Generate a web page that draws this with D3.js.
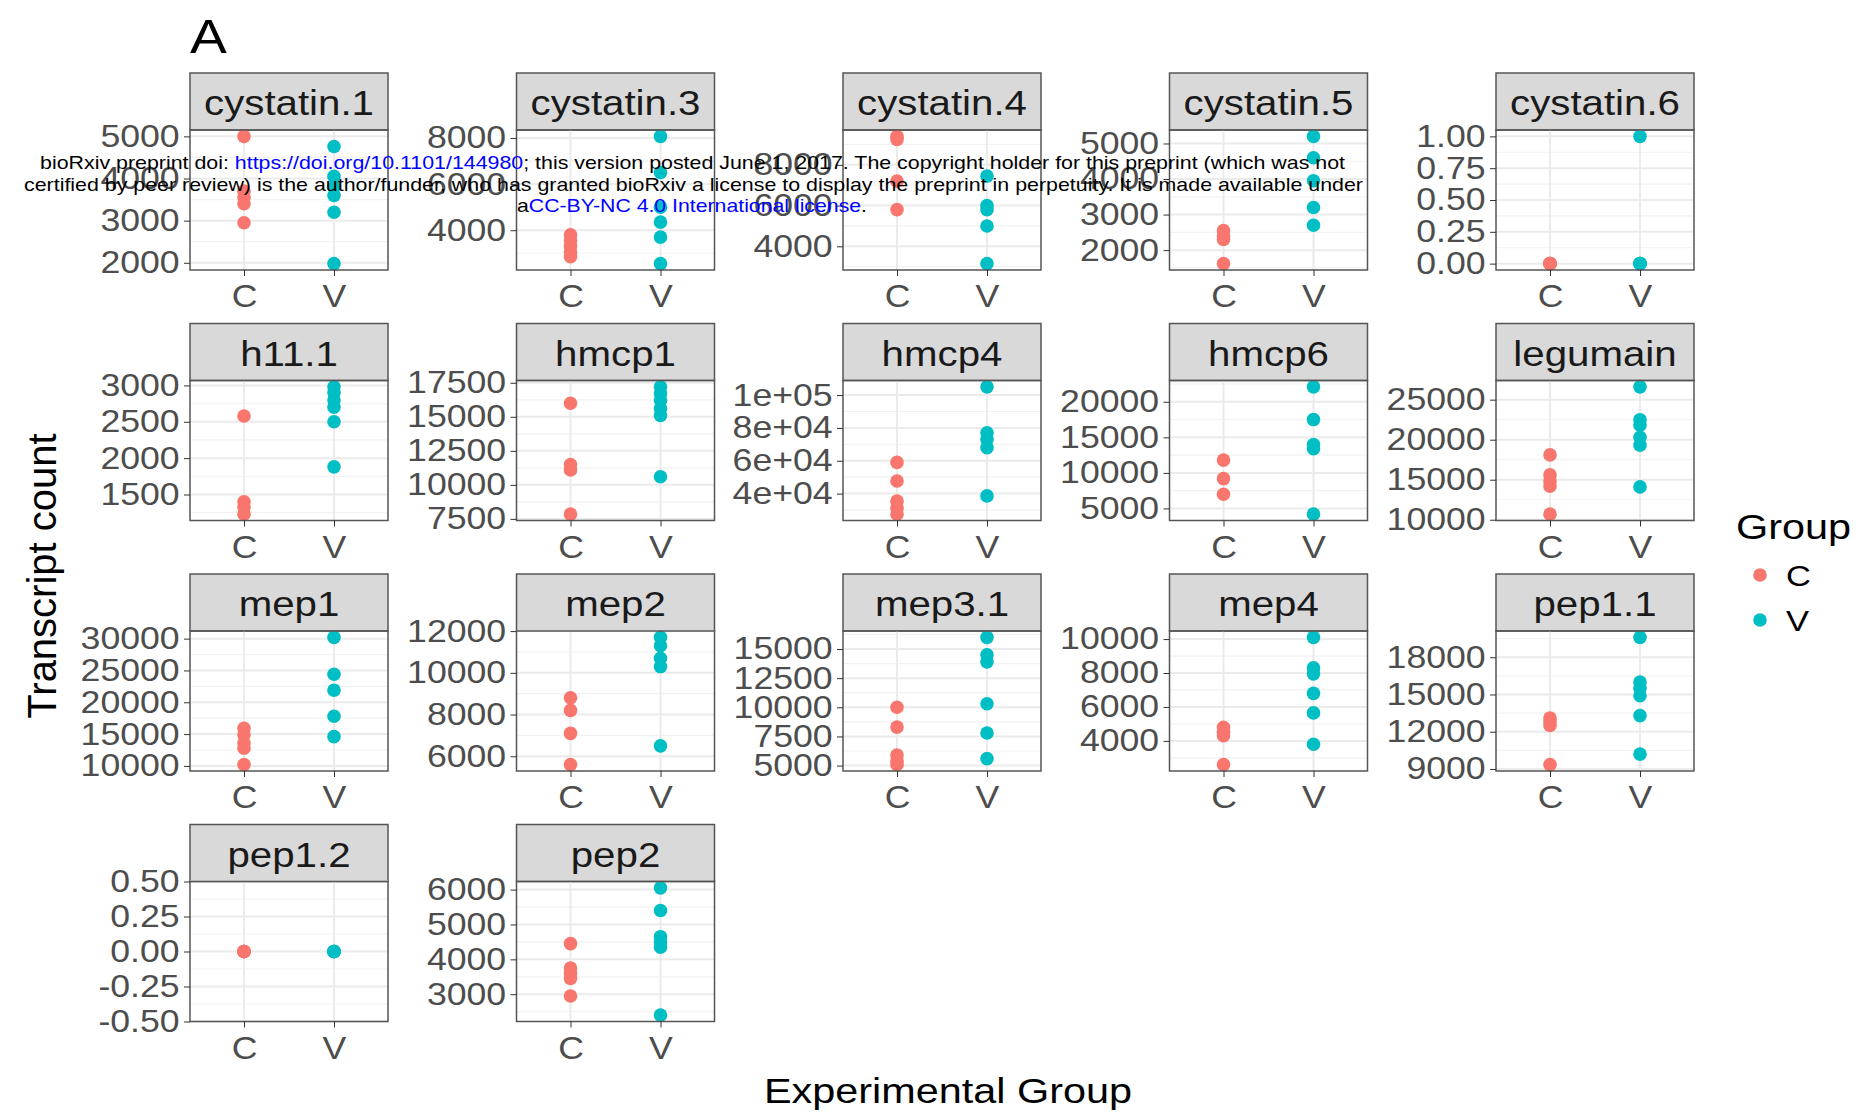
<!DOCTYPE html>
<html>
<head>
<meta charset="utf-8">
<script src="https://cdn.jsdelivr.net/npm/d3@7"></script>
<style>
  body { margin: 0; background: #fff; }
  svg { display: block; font-family: "Liberation Sans", Arial, sans-serif; }
</style>
</head>
<body>
<svg id="chart" width="1858" height="1119"></svg>
<script>
const genes = [
  "cystatin.1", "cystatin.3", "cystatin.4", "cystatin.5", "cystatin.6",
  "h11.1", "hmcp1", "hmcp4", "hmcp6", "legumain",
  "mep1", "mep2", "mep3.1", "mep4", "pep1.1",
  "pep1.2", "pep2",
];
const groups = ["C", "V"];
const groupColors = ["#F8766D", "#00BFC4"];

// transcript counts, group C
const countC = [
  [5000, 3700, 3550, 3400, 2950],
  [3800, 3550, 3300, 3050, 2850],
  [9400, 9250, 7200, 5800],
  [2550, 2400, 2300, 1620],
  [0, 0, 0, 0, 0],
  [2580, 1400, 1330, 1230],
  [16000, 11500, 11100, 7850],
  [59000, 47700, 35400, 31000, 27500],
  [11800, 9200, 7000],
  [18100, 15600, 14800, 14200, 10700],
  [15900, 14900, 13600, 12800, 10200],
  [8800, 8200, 7100, 5600],
  [10000, 8300, 5900, 5400, 5080],
  [4800, 4500, 4300, 2600],
  [13100, 12800, 12500, 9350],
  [0, 0, 0, 0, 0],
  [4450, 3750, 3600, 3450, 2950],
];

// transcript counts, group V
const countV = [
  [4760, 4050, 3800, 3600, 3200, 1980],
  [8070, 6500, 5000, 4350, 3700, 2550],
  [7450, 6000, 5800, 5000, 3150],
  [5200, 4600, 3950, 3200, 2700],
  [1, 0, 0, 0, 0],
  [2980, 2900, 2800, 2700, 2500, 1880],
  [17200, 16700, 16200, 15600, 15100, 10600],
  [105000, 77000, 73000, 68000, 38600],
  [22100, 17500, 14000, 13400, 4200],
  [26600, 22500, 21800, 20300, 19300, 14100],
  [30200, 24400, 21900, 17800, 14600],
  [11700, 11300, 10700, 10300, 6500],
  [16000, 14500, 13900, 10300, 7800, 5600],
  [10100, 8300, 7950, 6800, 5650, 3800],
  [19600, 16000, 15500, 14900, 13300, 10200],
  [0, 0, 0, 0, 0],
  [6050, 5400, 4650, 4500, 4350, 2400],
];

const yTickLabels = [
  ["2000", "3000", "4000", "5000"],
  ["4000", "6000", "8000"],
  ["4000", "6000", "8000"],
  ["2000", "3000", "4000", "5000"],
  ["0.00", "0.25", "0.50", "0.75", "1.00"],
  ["1500", "2000", "2500", "3000"],
  ["7500", "10000", "12500", "15000", "17500"],
  ["4e+04", "6e+04", "8e+04", "1e+05"],
  ["5000", "10000", "15000", "20000"],
  ["10000", "15000", "20000", "25000"],
  ["10000", "15000", "20000", "25000", "30000"],
  ["6000", "8000", "10000", "12000"],
  ["5000", "7500", "10000", "12500", "15000"],
  ["4000", "6000", "8000", "10000"],
  ["9000", "12000", "15000", "18000"],
  ["-0.50", "-0.25", "0.00", "0.25", "0.50"],
  ["3000", "4000", "5000", "6000"],
];

const noteLines = [
  [["bioRxiv preprint doi: ", false], ["https://doi.org/10.1101/144980", true],
   ["; this version posted June 1, 2017. The copyright holder for this preprint (which was not", false]],
  [["certified by peer review) is the author/funder, who has granted bioRxiv a license to display the preprint in perpetuity. It is made available under", false]],
  [["a", false], ["CC-BY-NC 4.0 International license", true], [".", false]],
];

const SX = 1.15; // the source figure's text is stretched sideways
const L = { left: 190, top: 73, colStep: 326.5, rowStep: 250.5, w: 198, stripH: 57, h: 140, cols: 5 };

const svg = d3.select("#chart");
svg.append("rect").attr("width", 1858).attr("height", 1119).attr("fill", "#fff");

const stretch = (sel, x, y) => sel.attr("transform", `translate(${x},${y}) scale(${SX},1)`);

// ggplot style limits: 5% each side, or +-0.5 for a zero range
const padDomain = (vals) => {
  const [lo, hi] = d3.extent(vals);
  if (lo === hi) return [lo - 0.5, hi + 0.5];
  const p = (hi - lo) * 0.05;
  return [lo - p, hi + p];
};

const minorTicks = (ticks, dom) => {
  const step = ticks[1] - ticks[0];
  const out = [];
  for (let t = ticks[0] - step / 2; t <= ticks[ticks.length - 1] + step; t += step) {
    if (t >= dom[0] && t <= dom[1]) out.push(t);
  }
  return out;
};

const x = d3.scalePoint().domain(groups).range([0, L.w]).padding(0.6);

genes.forEach((gene, i) => {
  const col = i % L.cols;
  const row = Math.floor(i / L.cols);
  const panel = svg.append("g")
    .attr("transform", `translate(${L.left + col * L.colStep}, ${L.top + row * L.rowStep})`);

  panel.append("rect")
    .attr("width", L.w).attr("height", L.stripH)
    .attr("fill", "#D9D9D9").attr("stroke", "#555").attr("stroke-width", 1.5);
  panel.append("text")
    .call(stretch, L.w / 2, 42)
    .attr("text-anchor", "middle")
    .attr("font-size", 35)
    .attr("fill", "#1A1A1A")
    .text(gene);

  const series = [countC[i], countV[i]];
  const ticks = yTickLabels[i].map(Number);
  const dom = padDomain(series.flat());
  const y = d3.scaleLinear().domain(dom).range([L.h, 0]);

  const plot = panel.append("g").attr("transform", `translate(0, ${L.stripH})`);

  plot.selectAll("line.minor")
    .data(minorTicks(ticks, dom))
    .enter().append("line")
    .attr("x1", 0).attr("x2", L.w)
    .attr("y1", (d) => y(d)).attr("y2", (d) => y(d))
    .attr("stroke", "#F2F2F2").attr("stroke-width", 1.2);
  plot.selectAll("line.major")
    .data(ticks)
    .enter().append("line")
    .attr("x1", 0).attr("x2", L.w)
    .attr("y1", (d) => y(d)).attr("y2", (d) => y(d))
    .attr("stroke", "#EBEBEB").attr("stroke-width", 2);
  plot.selectAll("line.vgrid")
    .data(groups)
    .enter().append("line")
    .attr("x1", (d) => x(d)).attr("x2", (d) => x(d))
    .attr("y1", 0).attr("y2", L.h)
    .attr("stroke", "#EBEBEB").attr("stroke-width", 2);

  series.forEach((vals, g) => {
    plot.append("g")
      .selectAll("circle")
      .data(vals)
      .enter().append("circle")
      .attr("cx", x(groups[g]))
      .attr("cy", (d) => y(d))
      .attr("r", 6.8)
      .attr("fill", groupColors[g]);
  });

  plot.append("rect")
    .attr("width", L.w).attr("height", L.h)
    .attr("fill", "none").attr("stroke", "#555").attr("stroke-width", 1.5);

  const yAxis = plot.append("g")
    .call(d3.axisLeft(y).tickValues(ticks).tickFormat((d, j) => yTickLabels[i][j])
      .tickSizeInner(6).tickSizeOuter(0).tickPadding(3));
  const xAxis = plot.append("g")
    .attr("transform", `translate(0, ${L.h})`)
    .call(d3.axisBottom(x).tickSizeInner(6).tickSizeOuter(0).tickPadding(9));

  [yAxis, xAxis].forEach((ax) => {
    ax.select(".domain").remove();
    ax.attr("color", "#333").attr("font-size", 31).attr("font-family", null);
    ax.selectAll("text").attr("fill", "#4D4D4D").attr("transform", `scale(${SX},1)`);
  });
});

// legend
const legend = svg.append("g").attr("transform", "translate(1736, 0)");
legend.append("text").call(stretch, 0, 539).attr("font-size", 36).attr("fill", "#000").text("Group");
groups.forEach((g, j) => {
  legend.append("circle").attr("cx", 24).attr("cy", 575 + j * 45).attr("r", 6.8).attr("fill", groupColors[j]);
  legend.append("text").call(stretch, 50, 586 + j * 45).attr("font-size", 30).attr("fill", "#000").text(g);
});

svg.append("text")
  .attr("transform", "translate(56, 576) rotate(-90)")
  .attr("text-anchor", "middle")
  .attr("font-size", 40)
  .attr("fill", "#000")
  .text("Transcript count");

svg.append("text")
  .call(stretch, 948, 1103)
  .attr("text-anchor", "middle")
  .attr("font-size", 36)
  .attr("fill", "#000")
  .text("Experimental Group");

svg.append("text")
  .call(stretch, 190, 53)
  .attr("font-size", 48)
  .attr("fill", "#000")
  .text("A");

// preprint notice over the figure
const noteX = [40, 24, 517];
const noteY = [169, 191, 212];
const noteW = [1305, 1339, 350];
noteLines.forEach((parts, k) => {
  const t = svg.append("text")
    .attr("x", noteX[k]).attr("y", noteY[k])
    .attr("font-size", 18.5)
    .attr("textLength", noteW[k])
    .attr("lengthAdjust", "spacingAndGlyphs");
  parts.forEach(([s, link]) => {
    t.append("tspan").attr("fill", link ? "#0000FF" : "#000").text(s);
  });
});
</script>
</body>
</html>
